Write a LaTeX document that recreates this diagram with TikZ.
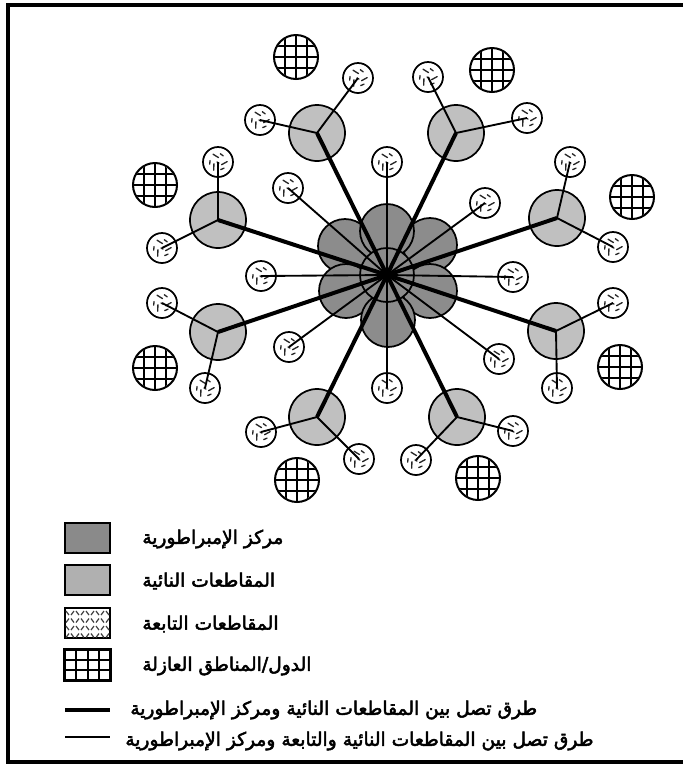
\documentclass[tikz,border=0pt]{standalone}
\usepackage{fontspec}
\newfontfamily\arabicfont[Script=Arabic,FakeBold=2.6]{DejaVu Sans}
\TeXXeTstate=1
\definecolor{clusterc}{HTML}{8C8C8C}
\definecolor{provc}{HTML}{C0C0C0}
\definecolor{legdark}{HTML}{8A8A8A}
\definecolor{legprov}{HTML}{B0B0B0}
\tikzset{
  pet/.style={circle,draw=black,line width=1.3pt,fill=clusterc,minimum size=40.5pt,inner sep=0pt},
  prov/.style={circle,draw=black,line width=1.3pt,fill=provc,minimum size=42pt,inner sep=0pt},
  sat/.style={circle,draw=black,line width=1.3pt,fill=white,minimum size=22.5pt,inner sep=0pt},
  buf/.style={circle,draw=black,line width=1.5pt,fill=white,minimum size=33pt,inner sep=0pt},
  mainroad/.style={line width=3pt},
  minorroad/.style={line width=1.4pt},
  legbox/.style={rectangle,draw=black,line width=1.6pt,minimum width=33.75pt,minimum height=22.5pt,inner sep=0pt},
  legtext/.style={anchor=west,inner sep=0pt,font=\arabicfont\fontsize{14}{16}\selectfont},
  markst/.style={line width=1pt,black!85,line cap=round},
  satmarks/.pic={
    \foreach \r in {20,140,260}{
      \begin{scope}[rotate=\r]
        \draw[markst] (-2,-9) .. controls (1,-8) and (-1,-5) .. (2,-4);
        \draw[markst] (5,-7) -- (7,-4);
      \end{scope}
    }
    \draw[markst] (-1,0) -- (1,1);
  },
  gridmarks/.pic={
    \begin{scope}
      \clip (0,0) circle (21);
      \foreach \d in {-11,0,11}{
        \draw[line width=1.5pt] (\d,-23) -- (\d,23);
        \draw[line width=1.5pt] (-23,\d) -- (23,\d);
      }
    \end{scope}
  }
}
\begin{document}
\begin{tikzpicture}[x=0.75pt,y=-0.75pt]
\useasboundingbox (0,0) rectangle (683,765);
% frame
\draw[line width=3pt] (683,5) -- (8,5) -- (8,762) -- (683,762);

% empire centre cluster
\node[pet] (pUL) at (345,246) {};
\node[pet] (pUR) at (430,245) {};
\node[pet] (pT) at (387,231) {};
\node[pet] (pLL) at (346,291) {};
\node[pet] (pLR) at (430,291) {};
\node[pet] (pB) at (388,320) {};
\node[pet] (ctr) at (387,275) {};

% distant provinces
\node[prov] (g1) at (317,133) {};
\node[prov] (g2) at (456,133) {};
\node[prov] (g3) at (218,220) {};
\node[prov] (g4) at (557,218) {};
\node[prov] (g5) at (218,332) {};
\node[prov] (g6) at (556,331) {};
\node[prov] (g7) at (317,417) {};
\node[prov] (g8) at (457,417) {};

% satellites of provinces
\foreach \n/\x/\y in {a1/260/120, b1/358/78, a2/428/77, b2/527/118,
  a3/218/162, b3/162/248, a4/570/162, b4/613/247,
  a5/162/303, b5/205/388, a6/613/303, b6/557/388,
  a7/261/432, b7/359/459, a8/513/431, b8/416/460,
  i1/387/162, i2/485/203, i3/513/277, i4/499/359,
  i5/387/388, i6/289/347, i7/261/276, i8/288/188}{
  \node[sat] (\n) at (\x,\y) {};
  \pic at (\n) {satmarks};
}

% buffer states
\foreach \n/\x/\y in {z1/296/57, z2/492/70, z3/155/185, z4/632/197,
  z5/155/368, z6/620/367, z7/297/480, z8/478/478}{
  \node[buf] (\n) at (\x,\y) {};
  \pic at (\n) {gridmarks};
}

% roads
\foreach \k in {1,...,8}{
  \draw[minorroad] (g\k.center) -- (a\k.center);
  \draw[minorroad] (g\k.center) -- (b\k.center);
  \draw[minorroad] (ctr.center) -- (i\k.center);
}
\foreach \k in {1,...,8}{
  \draw[mainroad] (ctr.center) -- (g\k.center);
}

% legend
\node[legbox,fill=legdark] (L1) at (87.5,538) {};
\node[legbox,fill=legprov] (L2) at (87.5,580) {};
\node[legbox,fill=white] (L3) at (87.5,623) {};
\begin{scope}
  \clip (L3.south west) rectangle (L3.north east);
  \foreach \j in {0,...,3}{
    \foreach \i in {0,...,8}{
      \pgfmathtruncatemacro{\myparity}{mod(\i+\j,2)}
      \ifnum\myparity=0
        \draw[line width=0.9pt,black!75] (66+5*\i,611+7.5*\j) -- ++(3,4);
      \else
        \draw[line width=0.9pt,black!75] (69+5*\i,611+7.5*\j) -- ++(-3,4);
      \fi
    }
  }
\end{scope}
\node[legbox,fill=white] (L4) at (87.5,665) {};
\foreach \xx in {76.25,87.5,98.75}{
  \draw[line width=1.5pt] (\xx,650) -- (\xx,680);
}
\foreach \yy in {660,670}{
  \draw[line width=1.5pt] (65,\yy) -- (110,\yy);
}
\draw[line width=1.6pt] (L4.south west) rectangle (L4.north east);

\coordinate (l5a) at (65,710);
\coordinate (l5b) at (110,710);
\coordinate (l6a) at (65,737);
\coordinate (l6b) at (110,737);
\draw[line width=2.8pt] (l5a) -- (l5b);
\draw[line width=2pt] (l6a) -- (l6b);

\node[legtext] (t1) at (142,539) {\beginR مركز الإمبراطورية\endR};
\node[legtext] (t2) at (142,581) {\beginR المقاطعات النائية\endR};
\node[legtext] (t3) at (142,624) {\beginR المقاطعات التابعة\endR};
\node[legtext] (t4) at (142,666) {\beginR الدول/المناطق العازلة\endR};
\node[legtext] (t5) at (130,710) {\beginR طرق تصل بين المقاطعات النائية ومركز الإمبراطورية\endR};
\node[legtext] (t6) at (125,741) {\beginR طرق تصل بين المقاطعات النائية والتابعة ومركز الإمبراطورية\endR};
\end{tikzpicture}
\end{document}
